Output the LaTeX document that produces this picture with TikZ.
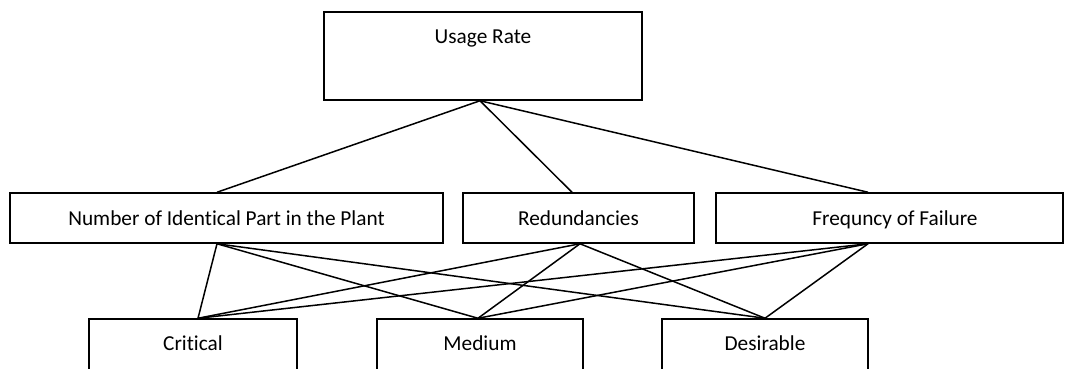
\documentclass[tikz,border=0pt]{standalone}
\usepackage{fontspec}
\setmainfont[Ligatures=NoCommon]{Carlito}
\usetikzlibrary{calc}
\begin{document}
\begin{tikzpicture}[x=1pt,y=-1pt,
  box/.style={draw=black, line width=1.5pt, rectangle, inner sep=0pt},
  label/.style={font=\fontsize{21.3}{25}\selectfont, inner sep=0pt, anchor=base},
  link/.style={draw=black, line width=1.5pt}]
  \clip (0,0) rectangle (1065,368);
  \useasboundingbox (0,0) rectangle (1065,368);

  % top level
  \node[box, minimum width=318, minimum height=88] (usage) at (483,56) {};
  \node[label] (usagetxt) at (483,43) {Usage Rate};

  % criteria
  \node[box, minimum width=433, minimum height=50] (num) at (226.5,218) {};
  \node[label] (numtxt) at (226.5,225) {Number of Identical Part in the Plant};
  \node[box, minimum width=231, minimum height=50] (red) at (578.5,218) {};
  \node[label] (redtxt) at (578.5,225) {Redundancies};
  \node[box, minimum width=347, minimum height=50] (freq) at (889.5,218) {};
  \node[label] (freqtxt) at (895,225) {Frequncy of Failure};

  % classes (boxes run past the lower edge)
  \node[box, minimum width=208, minimum height=80] (crit) at (193,359) {};
  \node[label] (crittxt) at (193,350) {Critical};
  \node[box, minimum width=206, minimum height=80] (med) at (480,359) {};
  \node[label] (medtxt) at (480,350) {Medium};
  \node[box, minimum width=206, minimum height=80] (des) at (765,359) {};
  \node[label] (destxt) at (765,350) {Desirable};

  % attachment points
  \coordinate (uB) at ($(usage.south)+(-3,0)$);
  \coordinate (nT) at ($(num.north)+(-9.5,0)$);
  \coordinate (nB) at ($(num.south)+(-9.5,0)$);
  \coordinate (rT) at ($(red.north)+(-6.5,0)$);
  \coordinate (rB) at ($(red.south)+(1.5,0)$);
  \coordinate (fT) at ($(freq.north)+(-21.5,0)$);
  \coordinate (fB) at ($(freq.south)+(-21.5,0)$);
  \coordinate (cT) at ($(crit.north)+(5,0)$);
  \coordinate (mT) at ($(med.north)+(-2,0)$);
  \coordinate (dT) at (des.north);

  % usage rate to criteria
  \draw[link] (uB) -- (nT);
  \draw[link] (uB) -- (rT);
  \draw[link] (uB) -- (fT);

  % criteria to classes
  \foreach \s in {nB,rB,fB}{
    \foreach \t in {cT,mT,dT}{
      \draw[link] (\s) -- (\t);
    }
  }
\end{tikzpicture}
\end{document}
